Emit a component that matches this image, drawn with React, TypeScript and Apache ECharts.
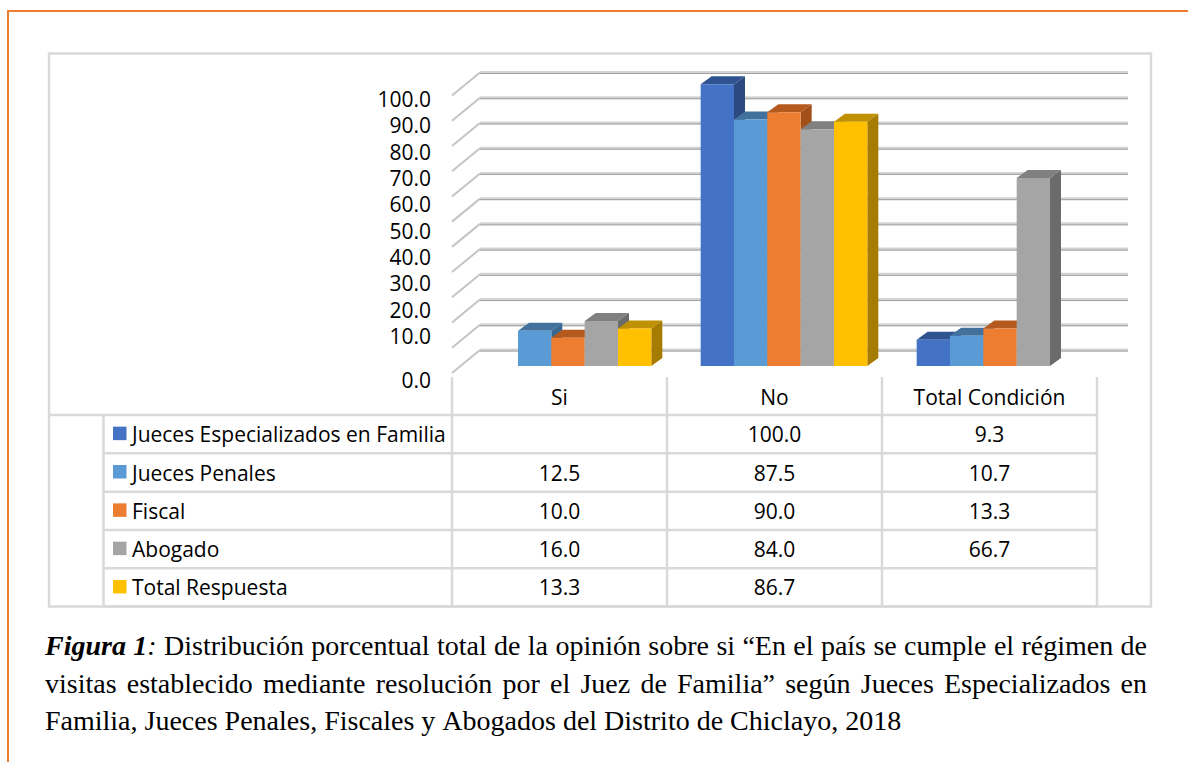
import React, { useEffect, useRef } from 'react';
import * as echarts from 'echarts';

// ---------------- data ----------------
const categories = ['Si', 'No', 'Total Condición'];
const seriesNames = [
  'Jueces Especializados en Familia',
  'Jueces Penales',
  'Fiscal',
  'Abogado',
  'Total Respuesta',
];
const juecesFamilia: (number | null)[] = [null, 100.0, 9.3];
const juecesPenales: (number | null)[] = [12.5, 87.5, 10.7];
const fiscal: (number | null)[] = [10.0, 90.0, 13.3];
const abogado: (number | null)[] = [16.0, 84.0, 66.7];
const totalRespuesta: (number | null)[] = [13.3, 86.7, null];
const yTicks = [0, 10, 20, 30, 40, 50, 60, 70, 80, 90, 100];
const wallLines = [0, 10, 20, 30, 40, 50, 60, 70, 80, 90, 100, 110];
const captionLines = [
  'Figura 1: Distribución porcentual total de la opinión sobre si “En el país se cumple el régimen de',
  'visitas establecido mediante resolución por el Juez de Familia” según Jueces Especializados en',
  'Familia, Jueces Penales, Fiscales y Abogados del Distrito de Chiclayo, 2018',
];

// ---------------- styles ----------------
const FRONT = ['#4472C4', '#5B9BD5', '#ED7D31', '#A5A5A5', '#FFC000'];
const TOP = ['#2F5290', '#41719C', '#B45A1F', '#808080', '#BF9000'];
const SIDE = ['#2A4A80', '#3A6890', '#A24F1A', '#6B6B6B', '#A57C00'];
const SANS = "'Open Sans', sans-serif";
const SERIF = "'Liberation Serif', 'Times New Roman', serif";
const LINE = '#d9d9d9';

function measure(ctx: CanvasRenderingContext2D, text: string, font: string) {
  ctx.font = font;
  return ctx.measureText(text).width;
}

function buildCaption(): any[] {
  const canvas = document.createElement('canvas');
  const ctx = canvas.getContext('2d') as CanvasRenderingContext2D;
  const size = 28;
  const mk = (style: string, weight: string) => `${style} ${weight} ${size}px ${SERIF}`;
  const left = 45;
  const right = 1147;
  const baselines = [655, 692.5, 730];
  const out: any[] = [];
  captionLines.forEach((line, li) => {
    const words = line.split(' ');
    const segWords = words.map((w, wi) => {
      if (li === 0 && wi === 0) return [{ t: w, s: 'italic', w: 'bold' }];
      if (li === 0 && wi === 1) {
        return [
          { t: w.replace(':', ''), s: 'italic', w: 'bold' },
          { t: ':', s: 'italic', w: 'normal' },
        ];
      }
      return [{ t: w, s: 'normal', w: 'normal' }];
    });
    const widths = segWords.map((segs) =>
      segs.reduce((a, sg) => a + measure(ctx, sg.t, mk(sg.s, sg.w)), 0)
    );
    const total = widths.reduce((a, b) => a + b, 0);
    const space = measure(ctx, ' ', mk('normal', 'normal'));
    const justify = li < captionLines.length - 1;
    const gap = justify ? (right - left - total) / (words.length - 1) : space;
    let x = left;
    const y = baselines[li] - 9.5;
    segWords.forEach((segs, wi) => {
      let sx = x;
      segs.forEach((sg) => {
        out.push({
          type: 'text',
          x: sx,
          y,
          style: {
            text: sg.t,
            fill: '#000',
            fontFamily: SERIF,
            fontSize: size,
            fontStyle: sg.s,
            fontWeight: sg.w,
            align: 'left',
            verticalAlign: 'middle',
          },
        });
        sx += measure(ctx, sg.t, mk(sg.s, sg.w));
      });
      x += widths[wi] + gap;
    });
  });
  return out;
}

function buildTable(): any[] {
  const g: any[] = [];
  const seriesData = [juecesFamilia, juecesPenales, fiscal, abogado, totalRespuesta];
  const colX = [452, 667, 882, 1097];
  const rowY = [415, 453.3, 491.7, 530, 568.3, 606.6];
  const ln = (x1: number, y1: number, x2: number, y2: number) => ({
    type: 'line',
    shape: { x1, y1, x2, y2 },
    style: { stroke: LINE, lineWidth: 2.5 },
  });
  colX.forEach((x) => g.push(ln(x, 377, x, 607)));
  g.push(ln(103.5, 415, 103.5, 607));
  g.push(ln(49, 415, 1097, 415));
  rowY.slice(1).forEach((y) => g.push(ln(103.5, y, 1097, y)));
  categories.forEach((c, ci) => {
    g.push({
      type: 'text',
      x: (colX[ci] + colX[ci + 1]) / 2,
      y: 397,
      style: { text: c, fill: '#000', fontFamily: SANS, fontSize: 21, align: 'center', verticalAlign: 'middle' },
    });
  });
  seriesNames.forEach((name, si) => {
    const cy = (rowY[si] + rowY[si + 1]) / 2;
    g.push({
      type: 'rect',
      shape: { x: 113, y: cy - 7.5, width: 13.5, height: 13.5 },
      style: { fill: FRONT[si] },
    });
    g.push({
      type: 'text',
      x: 132,
      y: cy,
      style: { text: name, fill: '#000', fontFamily: SANS, fontSize: 21, align: 'left', verticalAlign: 'middle' },
    });
    seriesData[si].forEach((v, ci) => {
      if (v == null) return;
      g.push({
        type: 'text',
        x: (colX[ci] + colX[ci + 1]) / 2,
        y: cy,
        style: {
          text: v.toFixed(1),
          fill: '#000',
          fontFamily: SANS,
          fontSize: 21,
          align: 'center',
          verticalAlign: 'middle',
        },
      });
    });
  });
  return g;
}

export default function App() {
  const ref = useRef<HTMLDivElement>(null);
  useEffect(() => {
    if (!ref.current) return;
    const chart = echarts.init(ref.current, undefined, { renderer: 'svg' });
    const seriesData = [juecesFamilia, juecesPenales, fiscal, abogado, totalRespuesta];
    const DX = 11;
    const DY = -8;

    const barSeries = seriesData.map((vals, i) => ({
      type: 'custom',
      name: seriesNames[i],
      xAxisIndex: 0,
      yAxisIndex: 0,
      clip: false,
      silent: true,
      data: vals.map((v, ci) => [ci, v == null ? '-' : v]),
      renderItem: (params: any, api: any) => {
        const c = api.value(0);
        const v = api.value(1);
        if (v == null || isNaN(v)) return null;
        const base = api.coord([c, 0]);
        const top = api.coord([c, v]);
        const band = api.size([1, 0])[0];
        const w = band * 0.1543;
        const x = base[0] - 2.5 * w + i * w;
        const yt = top[1];
        const yb = base[1];
        return {
          type: 'group',
          children: [
            {
              type: 'polygon',
              shape: { points: [[x + w, yt], [x + w + DX, yt + DY], [x + w + DX, yb + DY], [x + w, yb]] },
              style: { fill: SIDE[i] },
            },
            {
              type: 'polygon',
              shape: { points: [[x, yt], [x + w, yt], [x + w + DX, yt + DY], [x + DX, yt + DY]] },
              style: { fill: TOP[i] },
            },
            {
              type: 'rect',
              shape: { x, y: yt, width: w, height: yb - yt },
              style: { fill: FRONT[i] },
            },
          ],
        };
      },
    }));

    const wallSeries = {
      type: 'custom',
      xAxisIndex: 1,
      yAxisIndex: 1,
      clip: false,
      silent: true,
      data: wallLines.map((v) => [0, v]),
      renderItem: (params: any, api: any) => {
        const v = api.value(1);
        const p0 = api.coord([0, v]);
        const p1 = api.coord([1, v]);
        return {
          type: 'group',
          children: [
            {
              type: 'line',
              shape: { x1: p0[0] - 28, y1: p0[1] + 23, x2: p0[0], y2: p0[1] },
              style: { stroke: '#c4c4c4', lineWidth: 2 },
            },
            {
              type: 'line',
              shape: { x1: p0[0], y1: p0[1], x2: p1[0], y2: p1[1] },
              style: { stroke: '#d4d4d4', lineWidth: 3 },
            },
            {
              type: 'line',
              shape: { x1: p0[0], y1: p0[1] + 1, x2: p1[0], y2: p1[1] + 1 },
              style: { stroke: '#a0a0a0', lineWidth: 1 },
            },
          ],
        };
      },
    };

    const option: any = {
      animation: false,
      backgroundColor: '#ffffff',
      grid: [
        { left: 460, top: 56, width: 648, height: 310 },
        { left: 480, top: 72.5, width: 648, height: 277.5 },
        { left: 452, top: 99, width: 648, height: 263.3 },
      ],
      xAxis: [
        { type: 'category', gridIndex: 0, data: categories, show: false },
        { type: 'value', gridIndex: 1, min: 0, max: 1, show: false },
        { type: 'value', gridIndex: 2, min: 0, max: 1, show: false },
      ],
      yAxis: [
        { type: 'value', gridIndex: 0, min: 0, max: 110, show: false },
        { type: 'value', gridIndex: 1, min: 0, max: 110, show: false },
        {
          type: 'value',
          gridIndex: 2,
          min: yTicks[0],
          max: yTicks[yTicks.length - 1],
          interval: 10,
          axisLine: { show: false },
          axisTick: { show: false },
          splitLine: { show: false },
          axisLabel: {
            margin: 21,
            fontFamily: SANS,
            fontSize: 21,
            color: '#000',
            formatter: (v: number) => (v === 0 ? '{z|0.0}' : v.toFixed(1)),
            rich: {
              z: { fontFamily: SANS, fontSize: 21, color: '#000', padding: [36, 0, 0, 0] },
            },
          },
        },
      ],
      graphic: { elements: [
        { type: 'line', shape: { x1: 7, y1: 11, x2: 1188, y2: 11 }, style: { stroke: '#ED7D31', lineWidth: 2 } },
        { type: 'line', shape: { x1: 8, y1: 10, x2: 8, y2: 762 }, style: { stroke: '#ED7D31', lineWidth: 2 } },
        {
          type: 'rect',
          shape: { x: 49, y: 53.5, width: 1102, height: 553 },
          style: { fill: 'none', stroke: LINE, lineWidth: 2.5 },
        },
        ...buildTable(),
        ...buildCaption(),
      ] },
      series: [wallSeries, ...barSeries],
    };
    chart.setOption(option);
    return () => chart.dispose();
  }, []);
  return (
    <div
      ref={ref}
      style={{ position: 'fixed', left: 0, top: 0, width: 1188, height: 762, background: '#fff' }}
    />
  );
}
